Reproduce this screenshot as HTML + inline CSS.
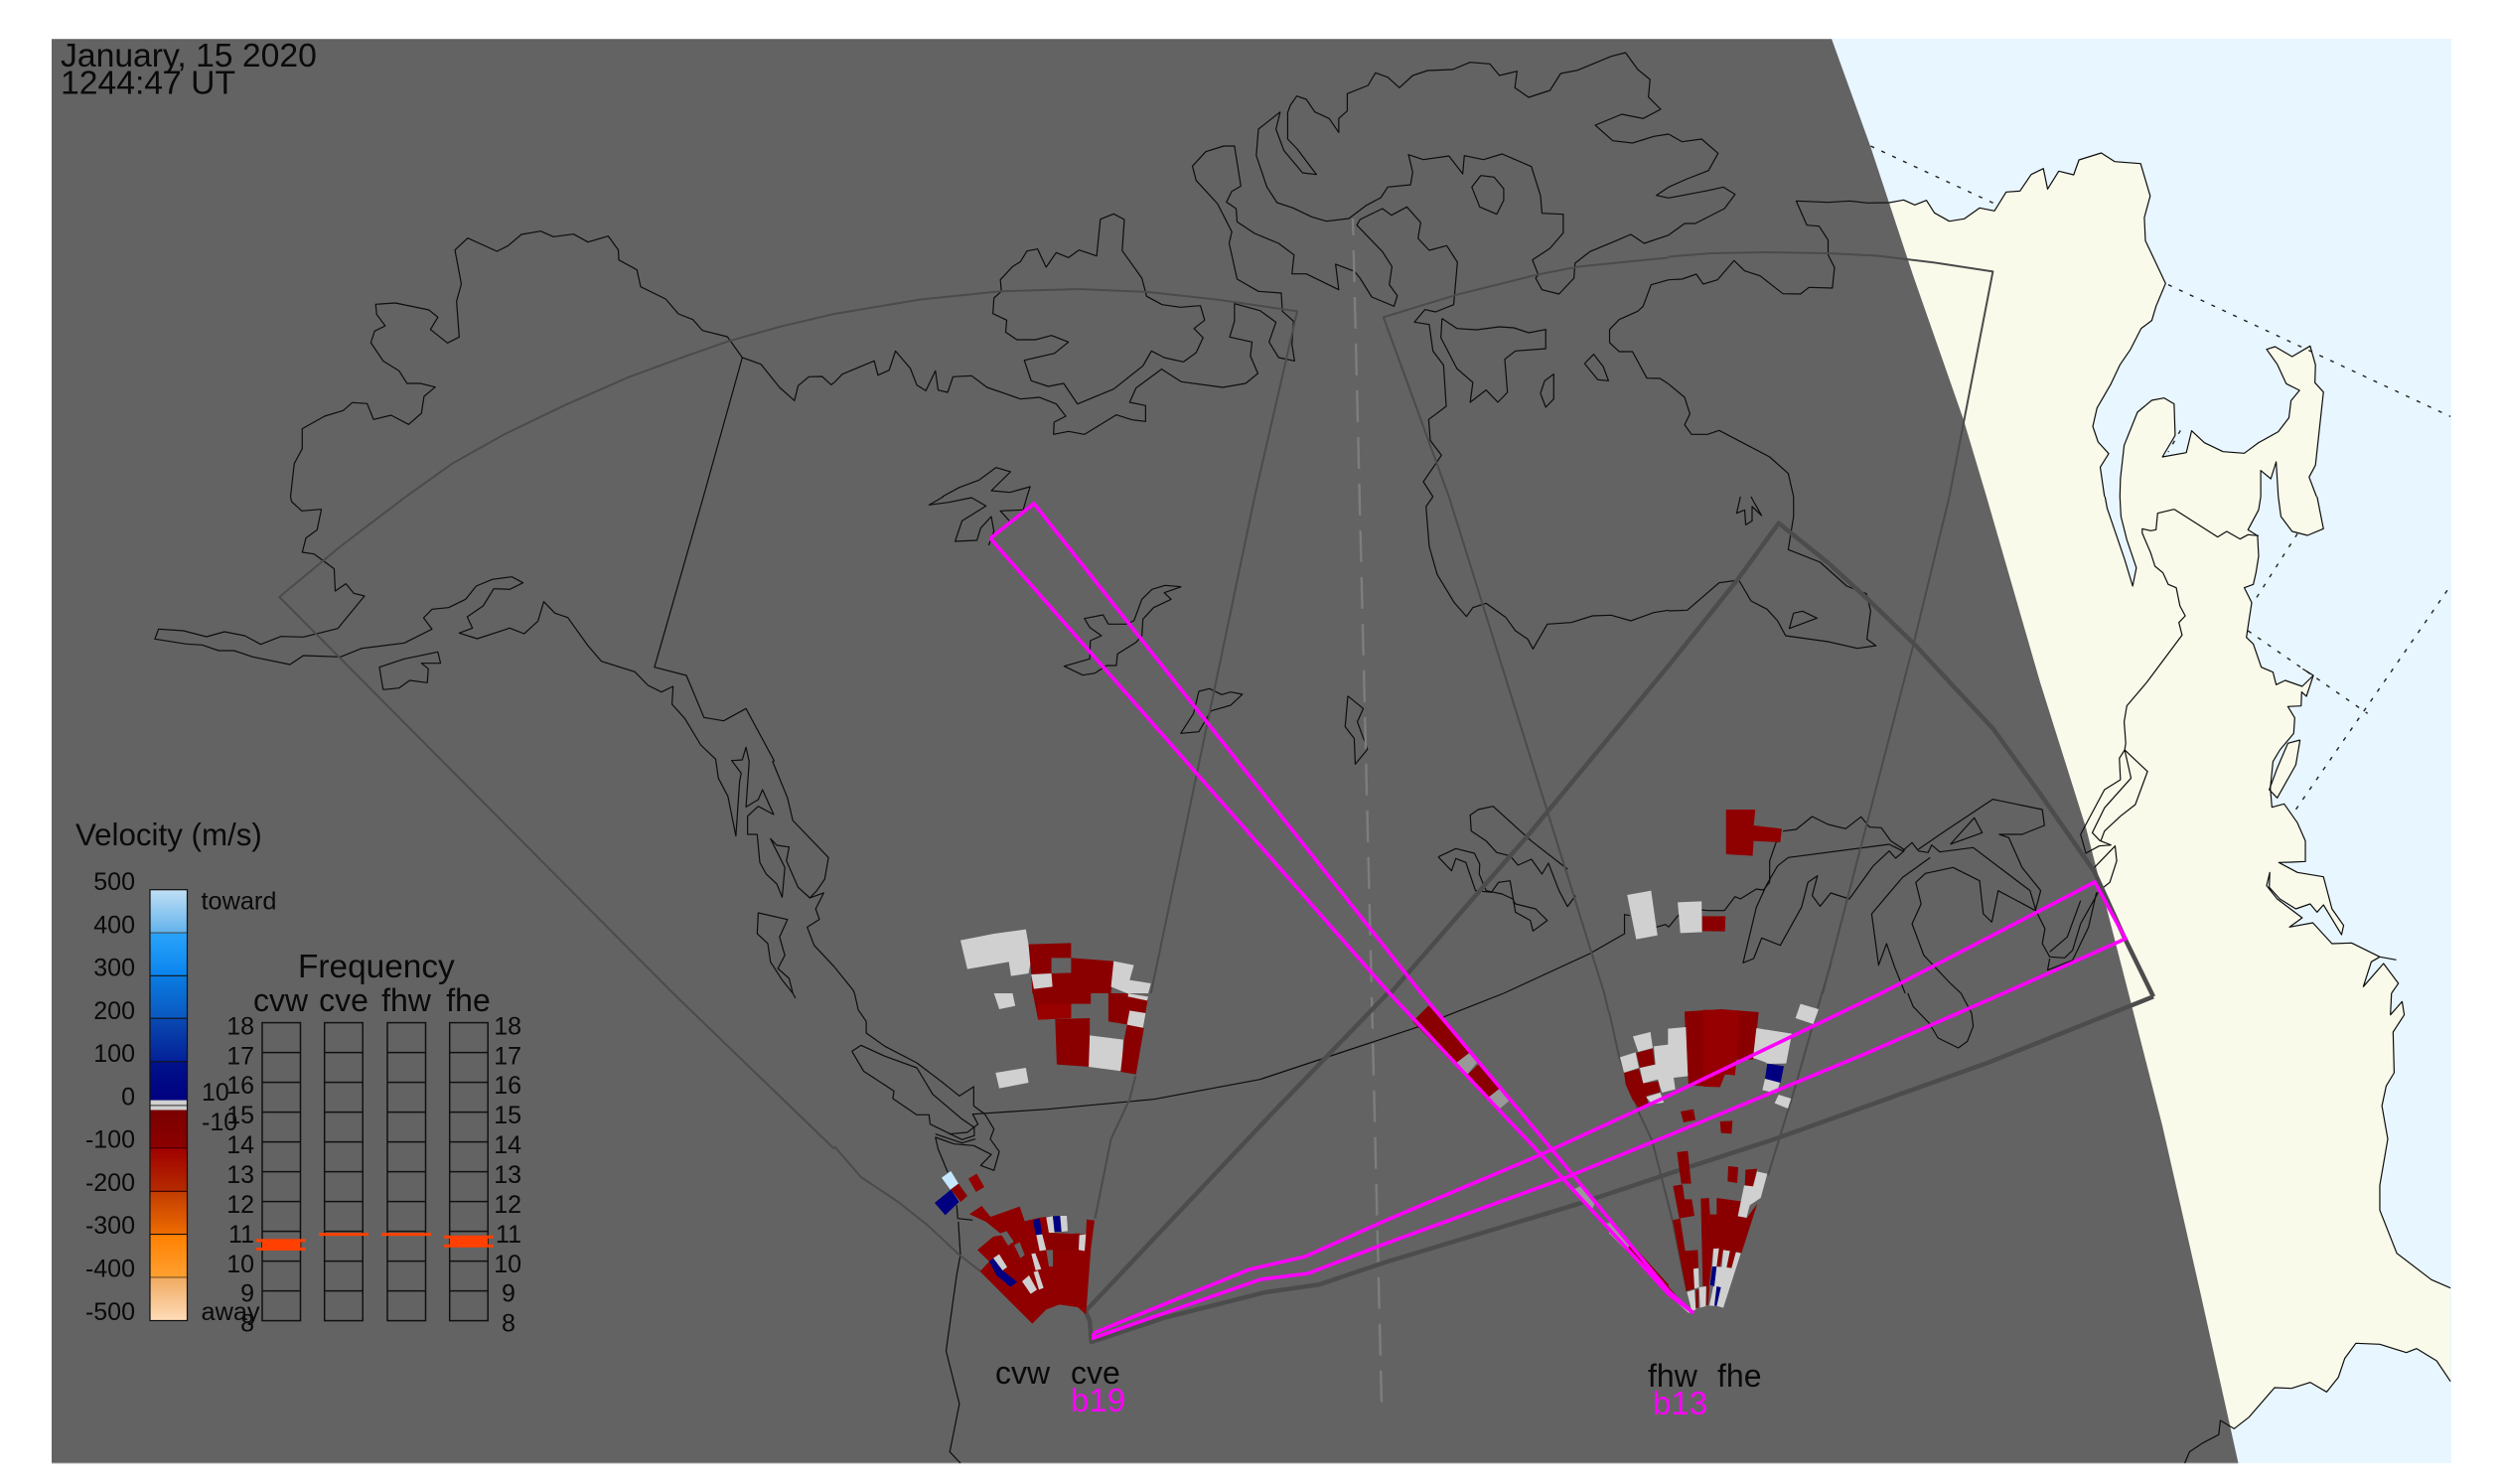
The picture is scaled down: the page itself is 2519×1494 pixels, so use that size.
<!DOCTYPE html>
<html><head><meta charset="utf-8">
<style>
html,body{margin:0;padding:0;background:#fff}
svg{display:block}
polyline{fill:none;stroke:#0d0d0d;stroke-width:1.2;stroke-linejoin:round;vector-effect:non-scaling-stroke}
polyline.f{stroke:#4b4b4b;stroke-width:2}
polyline.t{stroke:#4c4c4c;stroke-width:4.5}
polyline.m{stroke:#ff00ff;stroke-width:3.6;stroke-linejoin:miter}
polyline.d{stroke:#222;stroke-width:1.4;stroke-dasharray:4 8}
polygon.l{fill:#f9faea;stroke:none}
.r{fill:#8a0000}.w{fill:#d0d0d0}.n{fill:#000080}.g{fill:#636363}.y{fill:#999}
text{font-family:"Liberation Sans",sans-serif;fill:#0a0a0a}
</style></head><body>
<svg width="2519" height="1494" viewBox="0 0 2519 1494" xmlns="http://www.w3.org/2000/svg">
<defs>
<linearGradient id="c1" x1="0" y1="0" x2="0" y2="1"><stop offset="0" stop-color="#bfe0f5"/><stop offset="1" stop-color="#62b2ec"/></linearGradient>
<linearGradient id="c2" x1="0" y1="0" x2="0" y2="1"><stop offset="0" stop-color="#2aa4fa"/><stop offset="1" stop-color="#0a84ee"/></linearGradient>
<linearGradient id="c3" x1="0" y1="0" x2="0" y2="1"><stop offset="0" stop-color="#0a7ce2"/><stop offset="1" stop-color="#0a58c0"/></linearGradient>
<linearGradient id="c4" x1="0" y1="0" x2="0" y2="1"><stop offset="0" stop-color="#0a4ab2"/><stop offset="1" stop-color="#032098"/></linearGradient>
<linearGradient id="c5" x1="0" y1="0" x2="0" y2="1"><stop offset="0" stop-color="#00128c"/><stop offset="1" stop-color="#000080"/></linearGradient>
<linearGradient id="c6" x1="0" y1="0" x2="0" y2="1"><stop offset="0" stop-color="#7a0000"/><stop offset="1" stop-color="#8c0000"/></linearGradient>
<linearGradient id="c7" x1="0" y1="0" x2="0" y2="1"><stop offset="0" stop-color="#a00000"/><stop offset="1" stop-color="#b62c00"/></linearGradient>
<linearGradient id="c8" x1="0" y1="0" x2="0" y2="1"><stop offset="0" stop-color="#c23c00"/><stop offset="1" stop-color="#ee6c00"/></linearGradient>
<linearGradient id="c9" x1="0" y1="0" x2="0" y2="1"><stop offset="0" stop-color="#ff8000"/><stop offset="1" stop-color="#ffa030"/></linearGradient>
<linearGradient id="c10" x1="0" y1="0" x2="0" y2="1"><stop offset="0" stop-color="#f0aa60"/><stop offset="1" stop-color="#ffdcb8"/></linearGradient>
</defs>
<rect width="2519" height="1494" fill="#fff"/>
<rect x="52" y="39" width="2416" height="1434" fill="#e8f6ff"/>

<!-- land fills -->
<g transform="translate(1680 0) scale(.5351 .33333)">
<polygon class="l" points="300,611 340,607 375,613 415,612 442,604 463,619 485,605 500,643 528,668 556,661 585,628 613,637 635,580 661,577 682,527 705,509 713,571 734,517 762,528 772,483 814,462 839,488 888,494 906,592 895,657 897,727 935,856 917,925 909,968 889,992 869,1055 849,1102 832,1160 806,1232 798,1288 808,1335 828,1370 812,1411 820,1502 300,1502"/>
<polygon class="l" points="849,1502 850,1445 857,1345 882,1245 909,1209 932,1202 951,1220 953,1315 929,1380 974,1367 984,1301 1008,1337 1043,1364 1083,1369 1110,1337 1147,1304 1167,1262 1171,1210 1187,1179 1162,1159 1145,1100 1125,1055 1141,1047 1173,1077 1207,1045 1217,1102 1216,1156 1232,1184 1217,1405 1205,1441 1219,1502 1147,1502 1143,1395 1133,1446 1114,1421 1114,1502"/>
</g>
<g transform="translate(1680 500) scale(.5351 .33333)">
<polygon class="l" points="500,-2 821,-2 825,35 858,190 873,270 880,215 862,130 851,60 849,-2 1114,-2 1110,40 1090,100 1108,118 1110,180 1105,230 1100,265 1083,275 1097,320 1087,425 1100,445 1115,515 1137,530 1143,568 1160,555 1192,573 1213,540 1200,603 1191,590 1190,632 1165,634 1178,668 1176,715 1150,765 1137,800 1132,880 1135,938 1158,928 1183,985 1198,1040 1198,1102 1171,1104 1148,1105 1183,1135 1232,1148 1248,1245 1270,1295 1266,1323 1232,1233 1220,1255 1207,1230 1180,1245 1150,1215 1130,1180 1131,1135 1125,1175 1145,1215 1192,1272 1168,1300 1212,1287 1248,1350 1285,1348 1338,1390 1322,1405 1307,1480 1345,1410 1373,1470 1360,1502 500,1502"/>
<polygon class="l" points="1147,-2 1152,60 1173,105 1202,117 1232,97 1220,-2"/>
<polygon class="l" points="1188,735 1165,745 1145,820 1130,885 1145,910 1180,810"/>
</g>
<g transform="translate(1680 1000) scale(.5351 .33333)">
<polygon class="l" points="800,-2 1360,-2 1358,65 1380,25 1384,65 1363,117 1365,240 1350,280 1342,340 1353,440 1338,580 1338,655 1370,785 1435,865 1471,890 1471,1172 1445,1110 1407,1073 1388,1085 1338,1060 1293,1057 1272,1103 1260,1160 1238,1204 1207,1175 1172,1193 1140,1191 1092,1280 1064,1315 1038,1290 1035,1333 900,1400 800,1400"/>
</g>

<!-- dotted borders -->
<g transform="translate(1680 0) scale(.5351 .33333)">
<polyline class="d" points="380,441 613,615"/>
<polyline class="d" points="940,860 1471,1258"/>
<polyline class="d" points="963,1300 940,1365"/>
</g>
<g transform="translate(1680 500) scale(.5351 .33333)">
<polyline class="d" points="1183,112 1100,320"/>
<polyline class="d" points="1090,405 1315,655"/>
<polyline class="d" points="1465,283 1180,945"/>
</g>

<!-- night -->
<polygon points="52,39 1844,39 1883,147 1926,277 1977,423 2000,500 2054,687 2100,833 2143,1000 2177,1133 2215,1300 2253.5,1473 52,1473" fill="#636363"/>
<line x1="52" y1="39.5" x2="1844" y2="39.5" stroke="#888" stroke-width="1"/>
<line x1="52" y1="1473" x2="2253" y2="1473" stroke="#aaa" stroke-width="1"/>

<!-- coast: panel A -->
<g transform="scale(.53571 .33333)">
<polyline points="546,1500 553,1400 568,1355 568,1295 610,1257 645,1240 662,1216 690,1219 702,1267 735,1254 768,1282 792,1248 797,1197 818,1169 790,1158 765,1158 750,1120 720,1090 697,1035 704,1000 724,984 708,950 706,919 743,915 806,936 823,958 809,995 841,1036 863,1018 858,910 867,858 855,755 879,719 934,759 955,742 980,708 1016,698 1040,715 1078,707 1105,731 1143,713 1162,755 1163,785 1197,815 1204,866 1251,903 1275,948 1302,965 1320,998 1367,1017 1395,1080 1430,1100 1465,1170 1493,1210 1500,1165 1520,1138 1545,1137 1562,1162 1568,1155"/>
<polyline points="1395,1080 1322,1500"/>
<polyline class="f" points="763,1500 850,1400 950,1310 1060,1225 1180,1140 1290,1075 1370,1030 1470,985 1568,948"/>
</g>
<!-- panel B -->
<g transform="translate(840 0) scale(.53571 .33333)">
<polyline points="0,1155 15,1130 75,1090 82,1133 103,1118 115,1060 143,1113 155,1163 172,1180 190,1120 195,1178 213,1185 223,1138 258,1135 287,1170 350,1205 385,1200 417,1220 435,1257 413,1275 412,1312 440,1303 470,1312 530,1253 560,1268 585,1273 585,1225 555,1215 567,1172 615,1115 652,1153 730,1170 773,1158 796,1128 782,1075 785,1033 743,1018 752,970 752,917 800,938 830,973 817,1033 835,1080 865,1090 860,1040 863,970 842,940 840,885 797,880 757,843 742,735 747,700 720,615 680,545 673,502 698,458 732,441 752,441 764,562 747,578 737,610 755,630 757,670 790,705 835,735 864,770 860,827 887,827 948,875 942,798 978,820 988,840 1010,897 1052,925 1058,893 1043,860 1048,805 1030,760 982,680 988,663 1030,630 1047,650 1076,625 1102,672 1097,720 1118,756 1151,742 1171,792 1164,920 1130,942 1110,935 1090,973 1118,980 1125,1060 1145,1103 1150,1227 1117,1267 1120,1330 1141,1375 1107,1455 1125,1500"/>
<polyline points="838,338 797,390 793,470 813,565 832,612 862,628 897,655 925,668 967,660 1000,620 1027,597 1040,565 1083,558 1087,520 1079,467 1107,482 1155,471 1181,525 1184,470 1220,482 1255,465 1310,503 1327,590 1330,644 1370,647 1370,703 1345,750 1312,785 1323,830 1318,840 1330,875 1362,888 1390,840 1392,795 1420,760 1465,730 1497,708 1522,735 1568,710"/>
<polyline points="1568,565 1545,590 1568,598"/>
<polyline points="838,338 830,390 845,455 880,522 906,527 870,450 852,420 852,340 857,318 869,290 887,300 903,338 930,358 948,400 948,358 964,335 964,283 1003,258 1017,220 1040,233 1062,265 1087,228 1115,213 1162,210 1195,188 1232,193 1250,228 1283,215 1279,265 1305,294 1345,273 1365,222 1397,212 1460,170 1487,159 1510,210 1533,240 1530,293 1553,330 1520,358 1480,345 1430,378 1463,425 1500,432 1540,412 1568,405"/>
<polyline points="1215,530 1240,535 1258,570 1258,605 1245,647 1213,625 1198,565 1215,530"/>
<polyline points="1568,845 1535,860 1520,925 1510,940 1475,965 1457,995 1457,1035 1475,1062 1500,1062 1527,1142 1552,1143 1568,1160"/>
<polyline points="1142,962 1170,992 1207,996 1250,987 1277,990 1305,1005 1337,995 1337,1053 1280,1060 1260,1085 1265,1185 1247,1215 1225,1178 1195,1215 1200,1155 1170,1113 1140,1020 1142,962"/>
<polyline points="1410,1098 1427,1070 1445,1107 1455,1150 1435,1147 1410,1098"/>
<polyline points="1327,1188 1335,1150 1352,1130 1352,1205 1337,1230 1327,1188"/>
<polyline points="314,880 312,845 335,805 350,790 362,758 382,752 398,807 417,763 440,778 460,755 493,773 500,662 525,646 545,663 541,757 578,840 587,895 616,920 650,928 688,923 696,967 676,992 693,1020 680,1065 656,1093 620,1080 596,1060 580,1105 525,1175 457,1220 431,1158 402,1167 370,1150 357,1088 414,1067 440,1033 408,1013 378,1026 343,1026 322,1003 324,967 298,947 300,900 314,880"/>
<polyline points="203,1500 235,1472 272,1450 304,1412 331,1425 295,1482 330,1487 368,1470 362,1500"/>
<polyline class="f" points="0,948 160,905 310,880 460,873 590,882 720,905 870,940 790,1500"/>
<polyline class="f" points="1155,1500 1032,958 1170,890 1320,830 1400,805 1568,778"/>
</g>
<!-- panel C -->
<g transform="translate(1680 0) scale(.5351 .33333)">
<polyline points="0,598 75,575 103,565 125,587 105,630 50,675 30,675 0,710"/>
<polyline points="0,405 25,428 62,420 93,463 75,515 35,540 0,565"/>
<polyline points="0,845 25,843 52,828 65,858 92,845 123,787 143,818 172,833 215,887 248,888 264,868 308,870 312,808 300,770 300,725 283,683 260,680 240,607 300,611 340,607 375,613 415,612 442,604 463,619 485,605 500,643 528,668 556,661 585,628 613,637 635,580 661,577 682,527 705,509 713,571 734,517 762,528 772,483 814,462 839,488 888,494 906,592 895,657 897,727 935,856 917,925 909,968 889,992 869,1055 849,1102 832,1160 806,1232 798,1288 808,1335 828,1370 812,1411 820,1500"/>
<polyline points="849,1500 850,1445 857,1345 882,1245 909,1209 932,1202 951,1220 953,1315 929,1380 974,1367 984,1301 1008,1337 1043,1364 1083,1369 1110,1337 1147,1304 1167,1262 1171,1210 1187,1179 1162,1159 1145,1100 1125,1055 1141,1047 1173,1077 1207,1045 1217,1102 1216,1156 1232,1184 1217,1405 1205,1441 1219,1500"/>
<polyline points="1114,1500 1114,1421 1133,1446 1143,1395 1147,1500"/>
<polyline points="0,1160 30,1200 40,1250 30,1283 43,1312 73,1312 95,1300 190,1380 225,1430 235,1500"/>
<polyline class="f" points="0,775 80,765 185,762 300,765 390,772 500,793 610,820 528,1500"/>
</g>
<!-- panel D -->
<g transform="translate(0 500) scale(.53571 .33333)">
<polyline points="546,0 548,15 567,43 604,38 596,100 575,125 568,168 590,173 628,218 630,285 650,263 665,292 685,300 635,398 570,424 528,422 490,446 460,420 422,408 388,423 345,405 298,400 291,430 350,445 380,448 411,465 440,465 475,484 545,507 570,480 640,484 680,458 760,442 812,400 796,366 812,340 843,335 875,310 895,270 925,250 962,242 983,260 958,280 928,278 908,330 878,363 888,397 863,412 897,429 958,397 985,414 1011,376 1022,317 1043,352 1067,365 1105,450 1130,497 1193,529 1218,570 1243,590 1265,573 1263,627 1287,670 1317,750 1345,793 1350,850 1368,905 1383,1025 1390,860 1393,835 1375,797 1395,795 1402,757 1408,800 1402,937 1425,915 1433,885 1454,960 1425,935 1405,965 1405,1020 1423,1020 1428,1105 1440,1140 1460,1170 1470,1210 1475,1120 1448,1033 1460,1053 1483,1058 1478,1100 1500,1180 1522,1212 1548,1197 1533,1245 1540,1277 1517,1300 1530,1355 1568,1420"/>
<polyline points="1322,0 1230,515 1290,540 1323,667 1360,677 1402,640 1455,798 1452,800 1480,910 1490,978 1557,1090 1550,1155 1535,1190 1522,1212"/>
<polyline points="720,583 750,578 770,555 803,562 805,520 792,503 828,503 823,469 760,490 713,515 720,583"/>
<polyline points="1490,1500 1483,1455 1462,1425 1475,1385 1465,1330 1480,1277 1425,1257 1423,1320 1443,1350 1448,1405 1470,1460 1490,1500"/>
<polyline class="f" points="763,0 640,150 525,303 1265,1500"/>
</g>
<!-- panel E -->
<g transform="translate(840 500) scale(.53571 .33333)">
<polyline points="0,1420 35,1490 38,1500"/>
<polyline points="205,0 178,25 215,17 258,3 285,28 240,73 227,135 268,132 275,95 295,60 300,105 290,147"/>
<polyline points="362,0 355,40 312,43 330,75"/>
<polyline points="1125,0 1112,30 1118,150 1133,235 1165,320 1188,362 1200,335 1225,322 1262,365 1280,405 1303,430 1313,460 1340,385 1385,380 1425,360 1460,358 1497,375 1540,350 1568,343"/>
<polyline points="652,272 622,268 597,280 578,310 563,375 548,385 515,385 505,357 470,368 480,395 502,420 481,435 480,490 432,512 467,539 490,533 512,510 530,510 532,475 567,440 578,420 580,370 600,335 633,310 620,290 652,272"/>
<polyline points="685,588 705,580 728,598 745,590 767,597 745,630 708,647 685,710 651,715 675,655 685,588"/>
<polyline points="965,602 994,640 983,680 1002,763 979,808 977,730 960,695 965,602"/>
<polyline points="1378,1125 1310,1040 1238,935 1210,945 1195,962 1197,1010 1225,1040 1245,1075 1270,1085 1285,1113 1310,1095 1330,1140 1342,1107 1362,1190 1378,1238 1393,1205"/>
<polyline points="1135,1088 1168,1063 1203,1077 1213,1110 1212,1140 1225,1190 1255,1200 1275,1215 1280,1230 1318,1245 1340,1280 1313,1312 1308,1280 1280,1255 1270,1160 1248,1165 1235,1195 1205,1190 1190,1120 1187,1105 1168,1093 1160,1130 1135,1088"/>
<polyline points="1258,1500 1420,1380 1485,1320 1485,1262 1495,1265"/>
<polyline points="1545,1300 1562,1292 1568,1300"/>
<polyline class="f" points="790,0 595,1500"/>
<polyline class="f" points="1155,0 1447,1500"/>
</g>
<!-- panel F -->
<g transform="translate(1680 500) scale(.5351 .33333)">
<polyline points="135,0 128,50 143,40 145,85 157,73 157,30 175,57 160,15 155,0"/>
<polyline points="235,0 235,60 225,160 285,198 335,270 372,293 380,345 373,430 390,450 355,458 300,438 220,420 205,375 185,340 155,315 132,252 95,260 35,343 0,345"/>
<polyline points="235,352 252,346 279,367 227,398 235,352"/>
<polyline points="0,1300 15,1270 25,1255 60,1248 75,1250 105,1250 125,1208 135,1215 165,1185 178,1188 190,1165 190,1100 203,1040 190,1005"/>
<polyline points="215,1010 240,1005 270,966 300,990 333,1003 362,967 378,998 400,1000 418,1040 445,1068"/>
<polyline points="185,1170 205,1115 225,1090 415,1050 440,1070 458,1045 470,1070 488,1075 495,1052 510,1073 573,1060 680,1190 691,1250"/>
<polyline points="470,1065 520,1010 610,914 703,945 707,993 665,1020 622,1020 640,1030 665,1120 700,1190 690,1250 620,1190 608,1285 592,1260 585,1160 535,1120 483,1138 465,1165 475,1230 458,1290 480,1385 530,1470 550,1500"/>
<polyline points="530,1050 575,970 590,1015 530,1050"/>
<polyline points="443,1070 427,1092 415,1070 385,1115 340,1215 305,1197 285,1237 270,1205 280,1145 262,1165 250,1240 210,1355 175,1333 160,1395 140,1408 165,1240 185,1170"/>
<polyline points="492,1090 440,1150 382,1260 395,1415 410,1350 425,1420 445,1500"/>
<polyline points="691,1250 708,1305 703,1350 717,1390 745,1393 760,1370 775,1290 810,1190 830,1165 843,1100 840,1055 795,1130"/>
<polyline points="775,1220 750,1330 717,1375"/>
<polyline points="805,1195 790,1300 760,1400 713,1430 717,1395"/>
<polyline points="951,38 920,50 917,100 907,103 891,97 891,110 907,170 915,210 930,230 940,265 955,275 962,330 972,360 960,380 966,418 900,560 862,632 857,680 860,745 858,765 901,830 878,930 850,965 820,1010 813,1040 832,1052"/>
<polyline points="1110,118 1090,115 1075,128 1050,105 1033,122 951,38"/>
<polyline points="858,765 848,790 850,855 820,885 790,975 775,1020 785,1077 810,1055 833,1052"/>
<polyline points="858,765 870,850 820,940 797,1015 812,1040"/>
<polyline points="821,0 825,35 858,190 873,270 880,215 862,130 851,60 849,0"/>
<polyline points="1114,0 1110,40 1090,100 1108,118 1110,180 1105,230 1100,265 1083,275 1097,320 1087,425 1100,445 1115,515 1137,530 1143,568 1160,555 1192,573 1213,540 1193,520"/>
<polyline points="1213,540 1200,603 1191,590 1190,632 1165,634 1178,668 1176,715 1150,765 1137,800 1132,880 1135,938 1158,928 1183,985 1198,1040 1198,1102 1171,1104 1148,1105 1183,1135 1232,1148 1248,1245 1270,1295 1266,1323 1232,1233 1220,1255 1207,1230 1180,1245 1150,1215 1130,1180 1131,1135 1125,1175 1145,1215 1192,1272 1168,1300 1212,1287 1248,1350 1285,1348 1338,1390 1369,1399"/>
<polyline points="1338,1390 1322,1405 1307,1480 1345,1410 1373,1470 1360,1500"/>
<polyline points="1147,0 1152,60 1173,105 1202,117 1232,97 1220,0"/>
<polyline points="1188,735 1165,745 1145,820 1130,885 1145,910 1180,810 1188,735"/>
<polyline class="f" points="528,0 460,450 290,1500"/>
</g>
<!-- panel G -->
<g transform="translate(0 1000) scale(.53571 .33333)">
<polyline class="f" points="1265,0 1568,470"/>
<polyline points="1490,0 1495,15"/>
</g>
<!-- panel H -->
<g transform="translate(840 1000) scale(.53571 .33333)">
<polyline points="38,0 45,50 60,85 60,120 95,160 155,210 200,265 235,310 262,282 262,340 283,365 300,410 293,440 310,478 300,535 275,520 295,487 262,460 225,455 190,435 195,470 213,540"/>
<polyline points="1258,0 1100,100 950,180 800,260 600,320 400,350 260,365 270,395 250,420 215,425"/>
<polyline points="33,175 50,157 95,190 155,225 185,305 240,380 263,405 263,430 240,442 180,395 178,367 155,367 110,318 112,295 55,235 33,175"/>
<polyline points="190,425 240,452 265,440"/>
<polyline points="230,640 232,680 260,685"/>
<polyline points="233,690 237,790 230,850 210,1080 235,1240 217,1385 237,1419"/>
<polyline class="f" points="0,462 50,555 120,630 175,700 235,790 275,840"/>
<polyline class="f" points="566,250 555,320 520,440 490,680"/>
<polyline class="f" points="1447,0 1455,55"/>
</g>
<!-- panel I -->
<g transform="translate(1680 1000) scale(.5351 .33333)">
<polyline points="450,0 460,40 490,90 507,135 545,165 562,145 573,100 570,60 550,0"/>
<polyline points="1360,0 1358,65 1380,25 1384,65 1363,117 1365,240 1350,280 1342,340 1353,440 1338,580 1338,655 1370,785 1435,865 1471,890"/>
<polyline points="1471,1172 1445,1110 1407,1073 1388,1085 1338,1060 1293,1057 1272,1103 1260,1160 1238,1204 1207,1175 1172,1193 1140,1191 1092,1280 1064,1315 1038,1290 1035,1333 1005,1358 980,1385 971,1419"/>
</g>
<!-- fov detail near fhw -->
<g transform="translate(1620 970) scale(.33333)">
<polyline class="f" points="0,145 30,280 90,450 130,535 190,770 235,990"/>
<polyline class="f" points="670,0 640,100 560,380 480,640"/>
</g>

<!-- dashed midline -->
<line x1="1362" y1="220" x2="1391" y2="1413" stroke="#7d7d7d" stroke-width="2.4" stroke-dasharray="32 15" stroke-dashoffset="15"/>

<!-- thick gray beam -->
<g transform="translate(840 1000) scale(.53571 .33333)">
<polyline class="t" points="472,960 830,350 1040,0"/>
<polyline class="t" points="472,960 480,990 483,1053 620,980 810,903 910,880 1040,810 1400,635 1568,545"/>
</g>
<g transform="translate(840 500) scale(.53571 .33333)"><polyline class="t" points="1045,1500 1300,1030 1568,510"/></g>
<g transform="translate(1680 500) scale(.5351 .33333)"><polyline class="t" points="0,510 130,250 207,80 300,200 375,310 465,450 540,580 610,700 700,900 800,1130 860,1340 912,1510"/></g>
<g transform="translate(1680 1000) scale(.5351 .33333)"><polyline class="t" points="912,10 600,210 200,440 0,545"/></g>

<!-- far-range fan cve (E/H panels) -->
<g transform="translate(840 500) scale(.53571 .33333)">
<polygon class="w" points="237,1340 300,1320 360,1307 370,1400 365,1440 332,1448 328,1405 250,1427"/>
<polygon class="r" points="365,1352 445,1348 445,1393 408,1393 408,1440 370,1443"/>
<polygon class="r" points="445,1393 525,1403 520,1500 372,1500 370,1443 408,1440 445,1438"/>
<polygon class="w" points="370,1443 408,1440 410,1480 375,1487"/>
<polygon class="w" points="525,1403 563,1415 555,1460 595,1470 590,1500 550,1500 520,1480"/>
<polygon class="w" points="1490,1203 1535,1190 1547,1325 1507,1337"/>
</g>
<g transform="translate(840 1000) scale(.53571 .33333)">
<polygon class="w" points="300,0 335,0 340,38 310,48"/>
<polygon class="r" points="373,0 482,0 482,32 445,32 445,75 383,80"/>
<polygon points="383,32 445,32 445,75 383,80" fill="#990000"/>
<polygon class="r" points="415,78 480,75 480,127 480,222 418,215"/>
<polygon class="w" points="480,127 543,140 540,235 478,222"/>
<polygon class="r" points="515,0 552,0 590,10 585,58 552,95 515,85"/>
<polygon class="w" points="555,52 585,60 580,105 550,95"/>
<polygon class="w" points="552,0 590,10 588,22 552,10"/>
<polygon class="r" points="550,95 582,105 567,245 538,237 545,137"/>
<polygon class="w" points="303,240 360,225 365,270 310,287"/>
<!-- beam cells -->
<polygon class="r" points="1117,37 1195,178 1165,215 1087,85"/>
<polygon class="y" points="1195,178 1210,205 1187,250 1165,215"/>
<polygon class="r" points="1210,215 1250,288 1225,320 1187,250"/>
<polygon class="y" points="1250,288 1268,325 1248,352 1225,320"/>
<polygon class="y" points="1405,580 1432,625 1422,660 1385,595"/>
<polygon class="y" points="1465,690 1495,755 1490,760 1445,697"/>
<polygon class="r" points="1500,760 1568,880 1568,905 1490,775"/>
</g>

<!-- right far cluster (F) -->
<g transform="translate(1680 500) scale(.5351 .33333)">
<polygon points="108,945 163,945 160,993 213,1003 210,1044 160,1040 158,1085 108,1080" fill="#8f0000"/>
<polygon class="w" points="17,1225 62,1222 63,1315 22,1318"/>
<polygon class="r" points="63,1267 107,1267 106,1313 63,1312"/>
</g>

<!-- cvw/cve near fan -->
<g transform="translate(920 1130) scale(.33333)">
<polygon fill="#900000" points="358,608 200,450 228,420 192,385 240,345 268,340 218,300 168,277 205,252 232,285 320,254 335,298 378,288 400,285 408,333 520,338 522,293 546,296 535,380 520,580 495,558 440,550 400,565"/>
<polygon class="r" points="400,340 500,335 498,385 400,385"/>
<polygon class="g" points="262,335 280,328 302,360 285,372"/>
<polygon class="g" points="303,370 320,362 335,400 322,410"/>
<polygon class="g" points="400,385 420,385 420,435 408,435"/>
<polygon class="n" points="360,295 380,290 388,338 368,340"/>
<polygon class="w" points="400,287 420,283 425,333 408,333"/>
<polygon class="n" points="420,283 442,282 445,330 425,330"/>
<polygon class="w" points="442,282 462,282 465,328 447,330"/>
<polygon class="w" points="500,340 520,338 516,388 498,385"/>
<polygon class="w" points="370,340 388,338 400,385 380,388"/>
<polygon class="w" points="355,397 367,395 385,443 368,447"/>
<polygon class="w" points="362,452 375,448 392,500 378,505"/>
<polygon class="w" points="327,480 348,462 372,505 353,518"/>
<polygon class="w" points="240,410 258,398 282,437 268,447"/>
<polygon class="n" points="228,420 240,410 268,447 312,482 292,497 250,462"/>
<polygon points="84,167 112,147 135,185 110,203" fill="#c6e8ff"/>
<polygon class="r" points="112,203 135,185 162,222 142,240"/>
<polygon class="n" points="63,243 112,203 137,240 95,280"/>
<polygon points="165,170 190,155 213,195 188,210" fill="#960000"/>
</g>

<!-- fhw/fhe fan -->
<g transform="translate(1620 970) scale(.33333)">
<polygon class="r" points="228,145 340,138 452,147 445,215 435,290 385,290 380,337 350,335 335,373 240,368 232,250"/>
<polygon points="283,140 395,142 385,290 380,337 350,335 335,373 285,372" fill="#960000"/>
<polygon class="w" points="72,220 125,207 132,255 88,267"/>
<polygon class="w" points="33,283 80,268 90,315 45,330"/>
<polygon class="w" points="93,315 140,305 135,250 178,245 178,197 232,192 238,340 195,345 200,380 160,390 147,350 103,362"/>
<polygon class="r" points="82,270 132,257 138,305 93,315"/>
<polygon class="r" points="45,330 90,318 103,362 148,355 155,388 112,400 120,425 92,440 70,410 50,365"/>
<polygon class="w" points="112,403 155,390 165,420 130,425"/>
<polygon class="w" points="445,195 552,212 535,302 478,303 472,298 435,285"/>
<polygon class="n" points="478,302 528,310 518,360 471,348"/>
<polygon class="w" points="471,348 516,360 505,392 463,382"/>
<polygon class="w" points="512,396 550,408 540,438 500,422"/>
<polygon class="w" points="578,122 633,138 617,183 563,165"/>
<polygon class="r" points="216,447 255,440 261,473 225,480"/>
<polygon class="r" points="335,477 373,475 370,514 338,512"/>
<polygon class="r" points="205,570 238,566 248,665 218,665"/>
<polygon class="r" points="193,672 222,667 228,712 250,712 258,762 212,770"/>
<polygon class="r" points="192,775 215,770 230,868 268,865 270,920 255,925 258,982 233,990"/>
<polygon class="r" points="360,612 390,615 387,663 358,658"/>
<polygon class="r" points="412,623 447,620 435,673 410,670"/>
<polygon class="r" points="277,710 302,708 305,758 325,758 325,708 398,718 415,770 448,725 400,875 385,870 370,920 355,917 365,868 345,865 335,920 320,915 330,862 315,860 302,975 283,975"/>
<polygon class="w" points="447,628 478,635 458,708 425,730 415,768 389,763 408,670 435,673"/>
<polygon class="w" points="315,862 332,860 325,915 312,915"/>
<polygon class="w" points="345,865 365,868 355,918 340,920"/>
<polygon class="w" points="383,872 398,875 345,1040 328,1035 303,1033 315,975 305,972 325,915 370,920"/>
<polygon class="n" points="312,915 325,915 318,975 305,972"/>
<polygon class="n" points="325,975 338,978 325,1035 318,1033"/>
<polygon class="w" points="235,992 258,985 262,1045 250,1050"/>
<polygon class="r" points="262,985 270,985 270,1040 262,1040"/>
<polygon class="w" points="272,978 293,975 292,1035 275,1040"/>
<polygon class="r" points="295,975 303,975 300,1030 293,1033"/>
<polygon class="w" points="255,922 270,920 272,978 258,982"/>
<polygon class="r" points="65,850 210,1010 200,1020 50,865"/>
<polygon class="w" points="210,1010 252,1055 240,1055 200,1020"/>
<polygon class="y" points="0,775 65,850 50,865 0,815"/>
</g>

<!-- magenta beams -->
<polyline class="m" points="997,542 1041,507 1431,1000 1563,1158 1587,1187 1680,1300 1705,1322"/>
<polyline class="m" points="997,542 1399,1000 1552,1163 1680,1303 1705,1322"/>
<polyline class="m" points="1101,1342 1258,1278 1314,1265 1392,1230 1550,1163 1680,1103 1894,1000 2109,888 2140,945 2017,1000 1880,1060 1680,1143 1570,1188 1392,1253 1317,1282 1269,1288 1101,1347 1101,1342"/>

<!-- text top -->
<text x="61" y="67" font-size="33.7">January, 15 2020</text>
<text x="61" y="94.5" font-size="33.7">1244:47 UT</text>

<!-- legend colourbar -->
<rect x="151" y="896" width="37.5" height="43.3" fill="url(#c1)"/>
<rect x="151" y="939" width="37.5" height="43.4" fill="url(#c2)"/>
<rect x="151" y="982.3" width="37.5" height="43" fill="url(#c3)"/>
<rect x="151" y="1025.2" width="37.5" height="43.7" fill="url(#c4)"/>
<rect x="151" y="1068.8" width="37.5" height="39" fill="url(#c5)"/>
<rect x="151" y="1107.6" width="37.5" height="10" fill="#d0d0d0"/>
<rect x="151" y="1112.4" width="37.5" height="1" fill="#333"/>
<rect x="151" y="1117.5" width="37.5" height="38.4" fill="url(#c6)"/>
<rect x="151" y="1155.7" width="37.5" height="43.7" fill="url(#c7)"/>
<rect x="151" y="1199.3" width="37.5" height="43.4" fill="url(#c8)"/>
<rect x="151" y="1242.6" width="37.5" height="43.4" fill="url(#c9)"/>
<rect x="151" y="1285.9" width="37.5" height="43.6" fill="url(#c10)"/>
<g stroke="#111" stroke-width="1.1">
<line x1="151" x2="188.5" y1="939" y2="939" stroke="#444"/><line x1="151" x2="188.5" y1="982.3" y2="982.3"/><line x1="151" x2="188.5" y1="1025.2" y2="1025.2"/><line x1="151" x2="188.5" y1="1068.8" y2="1068.8"/><line x1="151" x2="188.5" y1="1155.7" y2="1155.7" stroke="#400"/><line x1="151" x2="188.5" y1="1199.3" y2="1199.3" stroke="#300"/><line x1="151" x2="188.5" y1="1242.6" y2="1242.6"/><line x1="151" x2="188.5" y1="1285.9" y2="1285.9" stroke="#7a5020"/>
</g>
<rect x="151" y="895.7" width="37.5" height="433.8" fill="none" stroke="#111" stroke-width="1.2"/>

<text x="76" y="851" font-size="31.3">Velocity (m/s)</text>
<g font-size="25" text-anchor="end">
<text x="136" y="896">500</text><text x="136" y="939.3">400</text><text x="136" y="982.6">300</text><text x="136" y="1025.8">200</text><text x="136" y="1069.1">100</text><text x="136" y="1112.4">0</text><text x="136" y="1155.7">-100</text><text x="136" y="1199">-200</text><text x="136" y="1242.2">-300</text><text x="136" y="1285.5">-400</text><text x="136" y="1328.8">-500</text>
</g>
<text x="202.5" y="915.7" font-size="25.3">toward</text>
<text x="202.5" y="1328.8" font-size="25.3">away</text>
<text x="203" y="1108" font-size="25">10</text>
<text x="203" y="1137.8" font-size="25">-10</text>
<text x="300" y="984" font-size="33.4">Frequency</text>
<g font-size="32" text-anchor="middle">
<text x="282.5" y="1017.8">cvw</text><text x="346" y="1017.8">cve</text><text x="409" y="1017.8">fhw</text><text x="471.5" y="1017.8">fhe</text>
</g>
<!-- freq bars -->
<g fill="none" stroke="#111" stroke-width="1.5">
<rect x="264" y="1029.6" width="38.5" height="300"/><rect x="326.7" y="1029.6" width="38.5" height="300"/><rect x="390" y="1029.6" width="38.5" height="300"/><rect x="452.7" y="1029.6" width="38.5" height="300"/>
<path d="M264 1059.6H302.5M264 1089.6H302.5M264 1119.6H302.5M264 1149.6H302.5M264 1179.6H302.5M264 1209.6H302.5M264 1239.6H302.5M264 1269.6H302.5M264 1299.6H302.5M326.7 1059.6H365.2M326.7 1089.6H365.2M326.7 1119.6H365.2M326.7 1149.6H365.2M326.7 1179.6H365.2M326.7 1209.6H365.2M326.7 1239.6H365.2M326.7 1269.6H365.2M326.7 1299.6H365.2M390 1059.6H428.5M390 1089.6H428.5M390 1119.6H428.5M390 1149.6H428.5M390 1179.6H428.5M390 1209.6H428.5M390 1239.6H428.5M390 1269.6H428.5M390 1299.6H428.5M452.7 1059.6H491.2M452.7 1089.6H491.2M452.7 1119.6H491.2M452.7 1149.6H491.2M452.7 1179.6H491.2M452.7 1209.6H491.2M452.7 1239.6H491.2M452.7 1269.6H491.2M452.7 1299.6H491.2"/>
</g>
<g fill="#ff4000">
<rect x="264" y="1247.7" width="38.5" height="11"/><rect x="258" y="1247.3" width="50" height="3"/><rect x="258" y="1256" width="50" height="3"/>
<rect x="321" y="1241.2" width="50" height="3"/>
<rect x="384" y="1241.2" width="50" height="3"/>
<rect x="452.7" y="1244.3" width="38.5" height="11"/><rect x="447" y="1243.8" width="50" height="3"/><rect x="447" y="1252.8" width="50" height="3"/>
</g>
<g font-size="25" text-anchor="end">
<text x="256" y="1041.4">18</text><text x="256" y="1071.3">17</text><text x="256" y="1101.2">16</text><text x="256" y="1131.2">15</text><text x="256" y="1161.1">14</text><text x="256" y="1191">13</text><text x="256" y="1220.9">12</text><text x="256" y="1250.8">11</text><text x="256" y="1280.8">10</text><text x="256" y="1310.7">9</text><text x="256" y="1340.6">8</text>
<text x="525" y="1041.4">18</text><text x="525" y="1071.3">17</text><text x="525" y="1101.2">16</text><text x="525" y="1131.2">15</text><text x="525" y="1161.1">14</text><text x="525" y="1191">13</text><text x="525" y="1220.9">12</text><text x="525" y="1250.8">11</text><text x="525" y="1280.8">10</text>
</g>
<g font-size="25" text-anchor="middle"><text x="512" y="1310.7">9</text><text x="512" y="1340.6">8</text></g>

<!-- radar labels -->
<g font-size="32" fill="#000">
<text x="1002" y="1393">cvw</text><text x="1078" y="1393">cve</text>
<text x="1659" y="1396">fhw</text><text x="1729" y="1396">fhe</text>
</g>
<text x="1078" y="1421" font-size="33" style="fill:#ff00ff">b19</text>
<text x="1664" y="1424" font-size="33" style="fill:#ff00ff">b13</text>
</svg>
</body></html>
